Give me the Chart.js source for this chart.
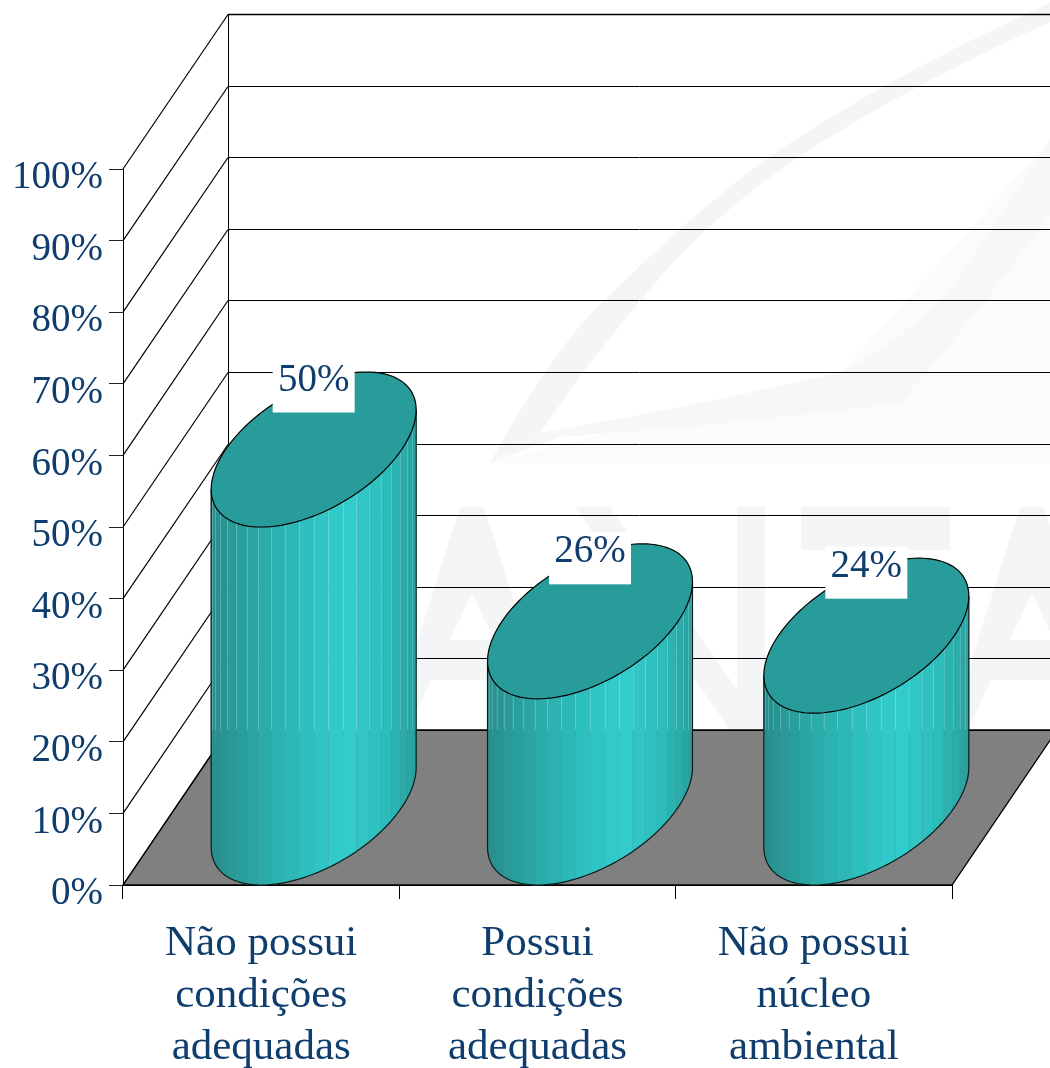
<!DOCTYPE html>
<html><head><meta charset="utf-8">
<style>html,body{margin:0;padding:0;background:#fff}canvas{display:block}</style>
<script src="https://cdn.jsdelivr.net/npm/chart.js@4"></script>
</head><body><canvas id="c" width="1050" height="1068"></canvas>
<script>
const categories = [["Não possui","condições","adequadas"],["Possui","condições","adequadas"],["Não possui","núcleo","ambiental"]];
const values = [50,26,24];
const valueLabels = ["50%","26%","24%"];
const depthX = 105, depthY = 155;
const textColor = "#0f3d6e";
const fontFamily = "'Liberation Serif', serif";

function path(ctx, pts){ctx.beginPath();pts.forEach((p,i)=>i?ctx.lineTo(p[0],p[1]):ctx.moveTo(p[0],p[1]));ctx.closePath();}

const watermark = {
  id:'watermark',
  beforeDraw(chart){
    const c=chart.ctx;c.save();
    // pale tinted panel of the logo
    c.fillStyle='#f9fbfc';
    path(c,[[490,463],[842,372],[1050,140],[1050,463]]);c.fill();
    c.fillStyle='#f4f5f6';
    c.beginPath();c.moveTo(490,463);c.quadraticCurveTo(555,345,605,300);c.quadraticCurveTo(690,215,765,160);c.quadraticCurveTo(880,80,1050,3);
    c.lineTo(1050,22);c.quadraticCurveTo(900,90,794,160);c.quadraticCurveTo(700,225,641,300);c.quadraticCurveTo(590,360,540,433);c.closePath();c.fill();
    c.beginPath();c.moveTo(490,463);c.lineTo(540,433);c.quadraticCurveTo(700,405,842,372);c.quadraticCurveTo(900,340,942,300);c.quadraticCurveTo(1000,220,1050,140);
    c.lineTo(1050,215);c.quadraticCurveTo(985,305,900,403);c.quadraticCurveTo(730,425,560,437);c.closePath();c.fillStyle='#f5f7f8';c.fill();
    c.fillStyle='#f4f5f6';
    const A=(cx)=>{
      c.beginPath();c.moveTo(cx-12,507);c.lineTo(cx+12,507);c.lineTo(cx+83,730);c.lineTo(cx+64,730);c.lineTo(cx+41,680);c.lineTo(cx-41,680);c.lineTo(cx-64,730);c.lineTo(cx-83,730);c.closePath();
      c.moveTo(cx,593);c.lineTo(cx-22,640);c.lineTo(cx+22,640);c.closePath();c.fill('evenodd');
    };
    A(472);A(1032);
    path(c,[[575,507],[610,507],[765,730],[730,730]]);c.fill();
    c.fillRect(737,507,28,223);
    c.fillRect(801,507,149,43);c.fillRect(860,507,34,223);
    c.restore();
  }
};

const frame = {
  id:'frame',
  beforeDatasetsDraw(chart){
    const c=chart.ctx,x=chart.scales.x,y=chart.scales.y;
    const L=x.left,R=x.right,B=y.getPixelForValue(0),T=y.getPixelForValue(100);
    c.save();
    path(c,[[L,B],[R,B],[R+depthX,B-depthY],[L+depthX,B-depthY]]);
    c.fillStyle='#808080';c.fill();
    c.strokeStyle='#000';c.lineWidth=1.3;c.stroke();
    c.strokeStyle='#000';
    y.ticks.forEach(t=>{
      const py=y.getPixelForValue(t.value);
      const by=Math.round(py-depthY)+0.5;
      c.lineWidth=1.2;
      c.beginPath();c.moveTo(L,py);c.lineTo(L+depthX,by);c.stroke();
      c.lineWidth=t.value===100?1.6:1;
      c.beginPath();c.moveTo(L+depthX,by);c.lineTo(R+depthX,by);c.stroke();
    });
    c.lineWidth=1;
    c.beginPath();c.moveTo(L+depthX+.5,B-depthY);c.lineTo(L+depthX+.5,T-depthY);c.stroke();
    c.restore();
  },
  afterDatasetsDraw(chart){
    const c=chart.ctx,y=chart.scales.y;
    const B=y.getPixelForValue(0);
    const backY=B-depthY;
    chart.getDatasetMeta(0).data.forEach((bar,i)=>{
      const a=bar.width/2, Dx=depthX/2, Dy=depthY/2;
      const cx=bar.x+Dx, topCy=bar.y-Dy, botCy=B-Dy;
      const pt=(t,cy)=>[cx+a*Math.cos(t)+Dx*Math.sin(t), cy-Dy*Math.sin(t)];
      const phi=Math.atan2(Dx,a);
      const t0=Math.PI+phi, n=22, dt=Math.PI/n;
      const R=Math.hypot(a,Dx);
      const shade=f=>{
        const stops=[[0,[39,142,141]],[0.2,[42,165,163]],[0.45,[46,190,190]],[0.66,[51,205,205]],[0.85,[45,188,186]],[1,[39,160,158]]];
        for(let k=1;k<stops.length;k++){ if(f<=stops[k][0]){const s=stops[k-1],e=stops[k],u=(f-s[0])/(e[0]-s[0]);return 'rgb('+s[1].map((v,j)=>Math.round(v+(e[1][j]-v)*u)).join(',')+')';}}
        return 'rgb(39,160,158)';
      };
      for(let k=0;k<n;k++){
        const t1=t0+k*dt,t2=t1+dt;
        const p=[pt(t1,topCy),pt(t2,topCy),pt(t2,botCy),pt(t1,botCy)];
        const f=((p[0][0]+p[1][0])/2-(cx-R))/(2*R);
        path(c,p);c.fillStyle=shade(f);c.fill();c.strokeStyle=shade(f);c.lineWidth=0.6;c.stroke();
      }
      c.lineWidth=1;
      for(let k=1;k<n;k++){
        const t1=t0+k*dt;
        const a1=pt(t1,topCy),a2=pt(t1,botCy);
        if(a1[1]<backY){
          c.strokeStyle='rgba(255,255,255,0.2)';
          c.beginPath();c.moveTo(Math.round(a1[0])+.5,a1[1]);c.lineTo(Math.round(a1[0])+.5,Math.min(backY,a2[1]));c.stroke();
        }
        c.strokeStyle='rgba(110,120,120,0.13)';
        c.beginPath();c.moveTo(Math.round(a1[0])+.5,Math.max(backY,a1[1]));c.lineTo(Math.round(a1[0])+.5,a2[1]);c.stroke();
      }
      c.beginPath();
      for(let k=0;k<=60;k++){const p=pt(t0+k*Math.PI/60,botCy);k?c.lineTo(p[0],p[1]):c.moveTo(p[0],p[1]);}
      const rt=pt(t0+Math.PI,topCy),lt=pt(t0,topCy);
      c.lineTo(rt[0],rt[1]);c.moveTo(lt[0],lt[1]);const lb=pt(t0,botCy);c.lineTo(lb[0],lb[1]);
      c.strokeStyle='#0d1a1a';c.lineWidth=1.2;c.stroke();
      c.beginPath();
      for(let k=0;k<=120;k++){const p=pt(k*Math.PI/60,topCy);k?c.lineTo(p[0],p[1]):c.moveTo(p[0],p[1]);}
      c.closePath();c.fillStyle='#279c9a';c.fill();c.strokeStyle='#000';c.lineWidth=1.2;c.stroke();
      const boxW=82,boxH=52,boxBottom=topCy-37;
      c.fillStyle='#fff';c.fillRect(cx-boxW/2,boxBottom-boxH,boxW,boxH);
      c.fillStyle=textColor;c.font='39px '+fontFamily;c.textAlign='center';c.textBaseline='alphabetic';
      c.fillText(valueLabels[i],cx,boxBottom-22);
    });
  }
};

new Chart(document.getElementById('c'),{
  type:'bar',
  data:{labels:categories,datasets:[{data:values,backgroundColor:'rgba(0,0,0,0)',borderWidth:0,barPercentage:1,categoryPercentage:0.637}]},
  plugins:[watermark,frame],
  options:{
    responsive:false,animation:false,
    layout:{padding:{left:0,right:98,top:169,bottom:0}},
    plugins:{legend:{display:false},title:{display:false},tooltip:{enabled:false}},
    scales:{
      x:{
        afterFit:s=>{s.height=183;},
        grid:{drawOnChartArea:false,drawTicks:true,tickLength:14,color:'#000',offset:true},
        border:{display:true,color:'#000'},
        ticks:{color:textColor,font:{family:fontFamily,size:43,lineHeight:52/43},padding:19,maxRotation:0,autoSkip:false}
      },
      y:{
        min:0,max:100,
        afterFit:s=>{s.width=123;},
        grid:{drawOnChartArea:false,drawTicks:true,tickLength:14,color:'#222'},
        border:{display:true,color:'#000'},
        ticks:{stepSize:10,color:textColor,font:{family:fontFamily,size:39},padding:6,labelOffset:9,callback:v=>v+'%'}
      }
    }
  }
});
</script></body></html>
